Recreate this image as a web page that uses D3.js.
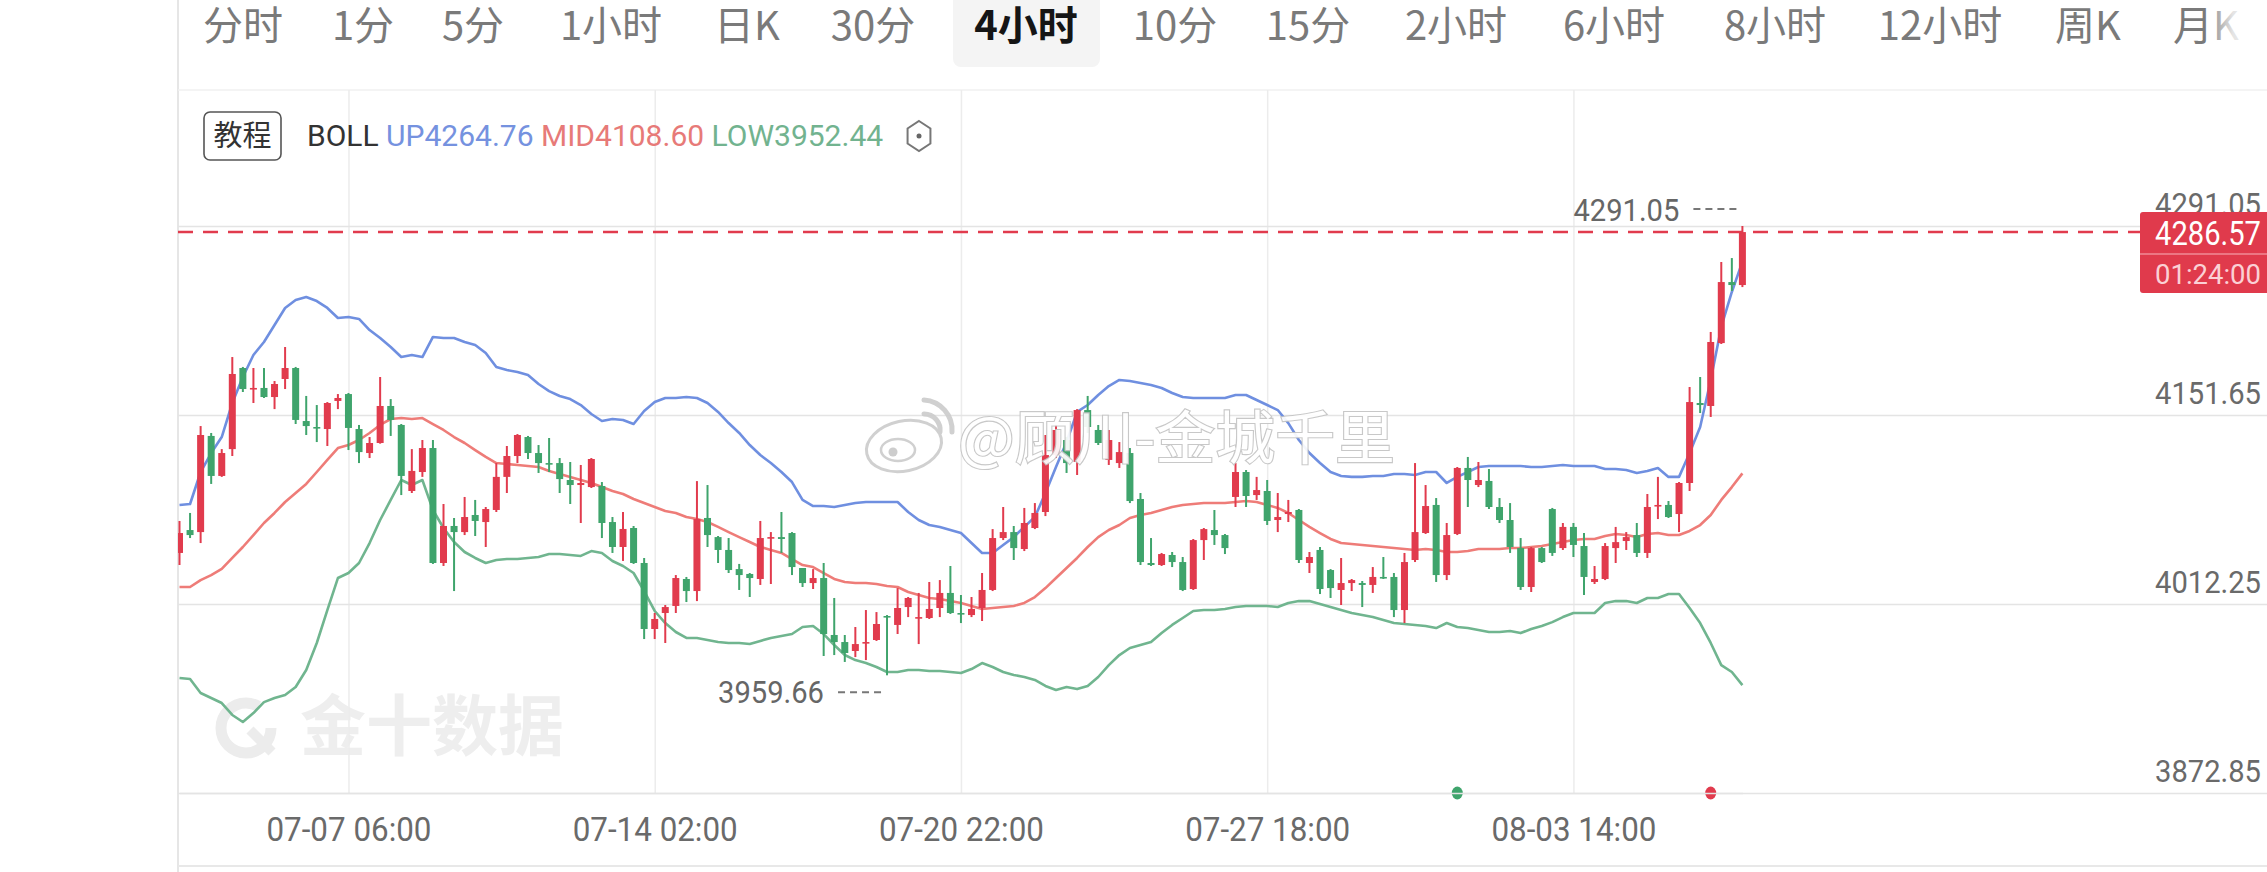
<!DOCTYPE html>
<html><head><meta charset="utf-8">
<script src="https://cdnjs.cloudflare.com/ajax/libs/d3/7.8.5/d3.min.js"></script>
<style>html,body{margin:0;padding:0;background:#fff;overflow:hidden}svg{display:block}</style>
</head><body><svg id="c" width="2267" height="872"></svg>
<script>
// ---------------- DATA ----------------
const tabs = ["分时","1分","5分","1小时","日K","30分","4小时","10分","15分","2小时","6小时","8小时","12小时","周K","月K"];
const activeTab = "4小时";

const open = [4049.9,4066.8,4065.3,4136.2,4106.7,4126.5,4186.3,4170.8,4171.6,4164.9,4178.2,4186.3,4147.2,4142.8,4141.3,4162.0,4167.1,4141.3,4123.6,4131.0,
4158.3,4144.3,4095.6,4109.6,4127.3,4042.5,4069.8,4065.3,4077.9,4072.7,4081.6,4106.0,4121.4,4135.4,4123.6,4116.2,4116.2,4103.7,4100.0,4098.5,
4099.3,4072.7,4054.3,4068.3,4042.5,3993.8,4005.6,4010.8,4030.7,4021.8,4075.7,4061.6,4052.1,4038.0,4034.4,4030.7,4060.9,4061.6,4064.6,4038.8,
4027.7,4031.4,3989.4,3984.2,3977.6,3983.5,3985.7,4003.4,3996.8,4010.0,4001.9,4001.9,4009.3,4020.4,4005.6,4004.1,4009.3,4022.6,4060.9,4065.3,
4052.8,4068.3,4080.1,4122.1,4133.2,4117.0,4155.3,4140.6,4118.5,4116.2,4123.6,4089.7,4042.5,4041.0,4048.4,4043.2,4023.3,4059.4,4066.8,4063.1,
4091.2,4109.6,4092.6,4095.6,4074.2,4078.6,4081.6,4042.5,4052.1,4037.3,4022.6,4027.7,4027.7,4026.3,4032.2,4032.2,4007.8,4044.7,4064.6,4085.3,
4033.6,4063.9,4112.6,4100.0,4103.0,4083.8,4074.2,4053.5,4024.8,4053.5,4082.3,4053.5,4069.1,4055.0,4028.5,4030.7,4053.5,4058.7,4063.1,4049.9,
4084.5,4085.3,4078.6,4101.5,4160.5,4158.3,4204.7,4249.7,4247.5];
const high = [4073.5,4079.4,4143.5,4138.4,4126.5,4194.4,4187.1,4186.3,4186.3,4176.7,4201.8,4187.1,4165.7,4159.0,4161.2,4167.1,4167.9,4144.3,4135.4,4179.7,
4163.4,4145.0,4126.5,4133.2,4133.2,4086.0,4075.7,4091.2,4089.0,4083.8,4116.2,4128.8,4137.6,4136.2,4129.5,4134.7,4119.9,4117.0,4114.8,4119.9,
4102.2,4076.4,4080.1,4069.8,4046.2,4005.6,4011.5,4033.6,4032.2,4102.9,4100.0,4062.4,4060.9,4041.8,4035.1,4073.5,4065.3,4080.1,4065.3,4038.8,
4038.0,4042.5,4016.7,3989.4,3995.3,4007.8,4006.3,4004.1,4024.0,4017.4,4020.4,4028.5,4029.9,4040.3,4018.9,4017.4,4035.1,4067.5,4083.8,4069.8,
4083.1,4086.7,4136.9,4144.3,4135.4,4156.0,4165.7,4144.3,4140.6,4131.7,4127.3,4094.1,4060.9,4049.9,4050.6,4046.9,4060.2,4068.3,4081.6,4063.9,
4116.2,4111.1,4106.0,4103.7,4094.1,4089.0,4082.3,4050.6,4054.3,4038.0,4046.2,4030.7,4029.2,4039.5,4046.9,4035.1,4049.9,4116.2,4100.0,4090.4,
4072.0,4113.3,4120.7,4117.0,4111.8,4090.4,4086.7,4060.9,4054.3,4054.3,4083.1,4072.0,4072.0,4064.6,4040.3,4057.2,4069.1,4065.3,4072.0,4093.4,
4106.0,4088.2,4102.2,4172.3,4179.7,4212.9,4264.5,4267.4,4291.05];
const low = [4041.0,4060.9,4057.2,4100.8,4106.0,4121.4,4168.6,4160.5,4164.2,4156.0,4170.8,4145.0,4136.9,4131.7,4128.8,4156.0,4125.8,4116.2,4119.9,4130.5,
4136.2,4092.6,4094.1,4106.0,4041.8,4040.3,4021.8,4063.1,4062.4,4054.3,4080.1,4094.1,4116.2,4119.2,4108.9,4109.6,4094.1,4086.0,4072.0,4097.8,
4060.9,4049.9,4044.0,4041.8,3986.4,3986.4,3983.5,4005.6,4013.7,4014.4,4054.3,4042.5,4035.1,4022.6,4017.4,4026.3,4027.0,4049.9,4033.6,4024.8,
4023.3,3973.9,3974.6,3969.5,3973.1,3970.9,3985.0,3959.66,3990.1,4002.6,3982.7,4001.2,4002.6,4004.9,3998.2,4002.6,3999.7,4021.8,4059.4,4044.7,
4051.3,4067.5,4077.1,4119.9,4108.9,4107.4,4138.4,4129.5,4114.8,4112.6,4086.7,4041.0,4040.3,4040.3,4039.5,4021.8,4022.6,4044.7,4055.8,4049.1,
4083.8,4083.8,4089.0,4070.5,4065.3,4072.7,4042.5,4035.1,4019.6,4016.7,4011.5,4021.8,4010.0,4020.4,4030.7,4002.6,3998.2,4043.2,4063.9,4028.5,
4029.9,4063.1,4083.8,4098.5,4082.3,4072.0,4049.9,4022.6,4021.1,4042.5,4047.7,4052.1,4046.9,4018.9,4027.0,4029.9,4042.5,4052.1,4046.9,4046.2,
4074.9,4075.7,4065.3,4095.6,4153.1,4150.2,4204.0,4243.1,4246.0];
const close = [4064.6,4063.1,4136.9,4106.7,4123.6,4181.9,4170.8,4171.6,4164.9,4174.5,4186.3,4148.0,4143.5,4142.1,4160.5,4164.2,4142.1,4124.3,4131.0,4158.3,
4148.0,4106.7,4110.4,4127.3,4042.5,4069.8,4065.3,4076.4,4073.5,4082.3,4106.0,4121.4,4136.9,4123.6,4116.2,4115.5,4104.4,4100.0,4101.5,4119.2,
4072.0,4054.3,4067.6,4042.5,3993.8,4001.2,4010.0,4031.4,4021.8,4074.9,4063.1,4052.1,4037.3,4033.6,4031.4,4060.9,4061.6,4060.2,4039.5,4027.7,
4031.4,3990.1,3984.2,3976.1,3982.7,3984.2,3997.5,4002.6,4009.3,4016.7,4002.6,4008.6,4020.4,4005.6,4004.9,4008.6,4022.6,4060.9,4065.3,4053.5,
4072.0,4079.4,4122.1,4140.6,4116.2,4155.3,4142.8,4131.0,4133.2,4124.3,4088.2,4043.2,4041.0,4049.1,4043.2,4022.6,4059.4,4067.5,4063.1,4053.5,
4109.6,4091.9,4096.3,4073.5,4076.4,4080.1,4044.7,4046.9,4023.3,4024.0,4027.7,4029.9,4026.3,4032.2,4031.4,4007.8,4043.2,4065.3,4084.5,4033.6,
4063.1,4112.6,4103.7,4103.7,4083.8,4074.2,4054.3,4024.8,4053.5,4043.2,4049.9,4069.1,4055.8,4032.2,4030.7,4055.0,4057.9,4061.6,4049.9,4083.8,
4085.3,4076.4,4101.5,4161.2,4159.0,4205.5,4249.7,4247.5,4286.57];

const bollUp = [4085.3,4086.0,4109.6,4123.6,4135.4,4160.5,4179.7,4195.9,4205.5,4218.0,4230.6,4236.5,4238.7,4235.7,4230.6,4223.2,4223.9,4222.5,4214.3,4208.4,
4201.8,4194.4,4195.9,4194.4,4209.2,4208.4,4208.4,4205.5,4203.3,4197.4,4187.1,4184.8,4183.4,4181.2,4174.5,4169.3,4165.7,4163.4,4159.0,4152.4,
4147.2,4148.7,4148.0,4145.0,4154.6,4161.2,4164.2,4164.2,4164.9,4164.2,4160.5,4153.9,4145.7,4138.4,4129.5,4122.1,4116.2,4109.6,4102.2,4089.0,
4084.5,4084.5,4083.8,4085.3,4086.7,4087.5,4087.5,4087.5,4087.5,4080.1,4074.2,4070.5,4069.1,4066.8,4064.6,4057.2,4049.9,4049.9,4055.8,4061.6,
4069.1,4076.4,4094.1,4113.3,4131.7,4153.9,4159.0,4166.4,4173.0,4177.5,4176.7,4175.3,4173.8,4171.6,4167.9,4164.9,4164.2,4164.2,4164.2,4164.2,
4166.4,4166.4,4162.7,4159.0,4155.3,4145.7,4133.2,4123.6,4116.2,4109.6,4106.7,4106.0,4106.0,4106.7,4106.7,4108.1,4108.1,4107.4,4109.6,4109.6,
4101.5,4106.0,4109.6,4113.3,4114.0,4114.0,4114.0,4114.0,4113.3,4113.3,4114.0,4114.8,4114.0,4114.0,4114.0,4111.8,4111.8,4111.1,4108.9,4110.3,
4112.6,4106.0,4106.0,4123.6,4142.8,4177.5,4216.6,4242.4,4264.76];
const bollMid = [4024.8,4024.8,4029.9,4033.6,4038.1,4046.2,4054.3,4063.1,4072.0,4079.4,4087.5,4094.1,4100.8,4109.6,4118.5,4127.3,4129.5,4133.2,4138.4,4144.3,
4148.7,4149.4,4148.7,4149.4,4145.0,4140.6,4135.4,4131.0,4125.8,4120.7,4116.2,4115.5,4114.8,4114.0,4113.3,4110.3,4108.1,4106.0,4103.7,4101.5,
4098.5,4095.6,4093.4,4089.7,4086.7,4083.8,4080.8,4079.4,4076.4,4074.9,4072.7,4069.1,4065.3,4061.6,4058.0,4054.3,4052.1,4049.9,4045.4,4041.0,
4039.5,4035.1,4030.7,4028.5,4027.7,4027.7,4027.0,4025.5,4024.8,4021.1,4018.9,4016.7,4015.9,4014.5,4013.0,4010.8,4008.6,4009.3,4010.0,4010.8,
4013.0,4017.4,4024.0,4031.4,4038.8,4046.2,4054.3,4061.6,4066.8,4070.5,4075.7,4077.9,4079.4,4081.6,4083.8,4085.3,4086.0,4086.7,4086.7,4086.7,
4087.5,4088.2,4087.5,4085.3,4083.1,4079.4,4074.2,4069.1,4064.6,4060.2,4057.2,4056.5,4055.8,4055.0,4054.3,4053.5,4052.8,4052.1,4052.8,4052.1,
4050.6,4050.6,4051.3,4052.8,4052.8,4052.8,4053.5,4053.5,4054.3,4055.0,4056.5,4058.0,4059.4,4060.2,4060.2,4062.4,4063.9,4063.1,4061.6,4063.9,
4064.6,4063.1,4063.1,4066.1,4070.5,4077.9,4089.0,4098.5,4108.60];
const bollLow = [3957.7,3956.9,3946.6,3942.9,3939.2,3930.4,3925.2,3931.8,3939.9,3942.9,3945.1,3951.0,3963.6,3983.5,4007.8,4031.4,4035.1,4042.5,4057.2,4074.2,
4089.0,4103.7,4100.0,4103.7,4081.6,4068.3,4058.0,4050.6,4046.2,4042.5,4044.7,4045.4,4045.4,4046.2,4046.9,4049.1,4049.1,4048.4,4047.7,4051.3,
4049.9,4044.0,4040.3,4035.1,4021.8,4007.1,3998.2,3991.6,3987.2,3987.2,3985.7,3984.2,3983.5,3983.5,3982.7,3985.0,3987.2,3988.6,3990.1,3995.3,
3996.0,3990.1,3982.0,3974.6,3970.9,3968.7,3965.8,3962.1,3962.1,3963.6,3963.6,3962.8,3962.8,3962.1,3961.4,3964.3,3968.7,3965.8,3962.1,3959.9,
3958.4,3956.2,3951.8,3948.8,3951.0,3949.5,3951.8,3958.4,3967.2,3974.6,3979.8,3982.0,3984.2,3990.8,3996.8,4001.9,4007.1,4007.8,4007.8,4008.6,
4010.0,4010.8,4010.8,4010.8,4010.0,4013.0,4014.4,4014.4,4012.2,4010.0,4007.8,4005.6,4004.1,4002.6,4000.4,3998.2,3997.5,3996.8,3996.0,3994.5,
3998.2,3995.3,3994.5,3993.1,3991.6,3991.6,3992.3,3990.8,3993.8,3996.0,3998.9,4002.6,4005.6,4005.6,4005.6,4013.0,4014.4,4014.4,4013.0,4016.7,
4016.7,4019.6,4019.6,4009.3,3998.2,3983.5,3967.2,3962.1,3952.44];

const yTicks = [3872.85, 4012.25, 4151.65, 4291.05];
const xTickIdx = [16, 45, 74, 103, 132];
const xTickLabels = ["07-07 06:00","07-14 02:00","07-20 22:00","07-27 18:00","08-03 14:00"];
const markIdx = [121, 145];
const markUp = [false, true];
const countdown = "01:24:00";
const legendParts = [["BOLL","#333333"],["UP4264.76","#7592df"],["MID4108.60","#e77a78"],["LOW3952.44","#72b38f"]];

// ---------------- LAYOUT ----------------
const W = 2267, H = 872;
const plotL = 178, plotTop = 90, axisY = 793, plotBottom = 866;
const tabCenters = [243,363,473,611,747,873,1026,1175,1308,1456,1614,1775,1940,2088,2206];
const RED = "#e13b4d", GREEN = "#3fa46c";
const C_UP = "#6f8fe0", C_MID = "#ee7c78", C_LOW = "#70b58f";
const numFont = "Roboto, 'Liberation Sans', sans-serif";
const cjkFont = "'Noto Sans CJK SC', 'Noto Sans', sans-serif";

const svg = d3.select("#c");
svg.append("rect").attr("width", W).attr("height", H).attr("fill", "#fff");

const N = close.length;
const x = d3.scaleLinear().domain([0, N - 1]).range([179.5, 1742.4]);
const y = d3.scaleLinear().domain([yTicks[0], yTicks[yTicks.length - 1]]).range([axisY, 226]);

// ---------- tab bar ----------
const activeI = tabs.indexOf(activeTab);
svg.append("rect").attr("x", 953).attr("y", -10).attr("width", 147).attr("height", 77)
  .attr("rx", 8).attr("fill", "#f4f4f4");
svg.append("g").selectAll("text").data(tabs).join("text")
  .attr("x", (d, i) => tabCenters[i]).attr("y", 40)
  .attr("text-anchor", "middle")
  .attr("font-family", cjkFont).attr("font-size", 40)
  .attr("font-weight", (d, i) => i === activeI ? 700 : 400)
  .attr("fill", (d, i) => i === activeI ? "#151515" : "#7a7a7a")
  .text(d => d);
const defs = svg.append("defs");
const fg = defs.append("linearGradient").attr("id", "fade").attr("x1", "0").attr("x2", "1");
fg.append("stop").attr("offset", "0").attr("stop-color", "#fff").attr("stop-opacity", 0);
fg.append("stop").attr("offset", "0.45").attr("stop-color", "#fff").attr("stop-opacity", 0.8);
fg.append("stop").attr("offset", "1").attr("stop-color", "#fff").attr("stop-opacity", 0.95);
svg.append("rect").attr("x", 2205).attr("y", 0).attr("width", 62).attr("height", 60).attr("fill", "url(#fade)");

// ---------- frame ----------
svg.append("line").attr("x1", plotL).attr("x2", plotL).attr("y1", 0).attr("y2", H)
  .attr("stroke", "#e6e6e6").attr("stroke-width", 2);
svg.append("line").attr("x1", plotL).attr("x2", W).attr("y1", plotTop).attr("y2", plotTop)
  .attr("stroke", "#f0f0f0").attr("stroke-width", 1.5);
svg.append("line").attr("x1", plotL).attr("x2", W).attr("y1", plotBottom).attr("y2", plotBottom)
  .attr("stroke", "#e8e8e8").attr("stroke-width", 2);

// ---------- watermark 金十数据 ----------
const wm = svg.append("g").attr("fill", "#eeeeee");
wm.append("circle").attr("cx", 246).attr("cy", 728).attr("r", 25).attr("fill", "none")
  .attr("stroke", "#ececec").attr("stroke-width", 11).attr("stroke-dasharray", "130 30");
wm.append("path").attr("d", "M 250 730 L 272 752").attr("stroke", "#ececec").attr("stroke-width", 10);
wm.append("text").attr("x", 300).attr("y", 750).attr("font-family", cjkFont).attr("font-weight", 700)
  .attr("font-size", 66).attr("textLength", 264).attr("lengthAdjust", "spacingAndGlyphs").text("金十数据");

// ---------- grid ----------
svg.append("g").attr("transform", `translate(0,${axisY})`)
  .call(d3.axisBottom(x).tickValues(xTickIdx).tickSize(-(axisY - plotTop)).tickFormat(""))
  .call(g => g.select(".domain").remove())
  .call(g => g.selectAll("line").attr("stroke", "#ececec").attr("stroke-width", 1.5));
svg.append("g").attr("transform", `translate(${plotL},0)`)
  .call(d3.axisLeft(y).tickValues(yTicks).tickSize(-(W - plotL)).tickFormat(""))
  .call(g => g.select(".domain").remove())
  .call(g => g.selectAll("line").attr("stroke", "#e4e4e4").attr("stroke-width", 1.5));

// ---------- plot ----------
defs.append("clipPath").attr("id", "clip").append("rect")
  .attr("x", plotL).attr("y", plotTop).attr("width", W - plotL).attr("height", axisY - plotTop);
const plot = svg.append("g").attr("clip-path", "url(#clip)");

const line = d3.line().x((d, i) => x(i)).y(d => y(d));
[[bollUp, C_UP], [bollMid, C_MID], [bollLow, C_LOW]].forEach(([arr, col]) => {
  plot.append("path").datum(arr).attr("d", line).attr("fill", "none")
    .attr("stroke", col).attr("stroke-width", 2.6).attr("stroke-linejoin", "round");
});

const idx = d3.range(N);
const col = i => close[i] >= open[i] ? RED : GREEN;
plot.append("g").selectAll("line").data(idx).join("line")
  .attr("x1", i => x(i)).attr("x2", i => x(i))
  .attr("y1", i => y(high[i])).attr("y2", i => y(low[i]))
  .attr("stroke", col).attr("stroke-width", 2);
plot.append("g").selectAll("rect").data(idx).join("rect")
  .attr("x", i => x(i) - 3.5).attr("width", 7)
  .attr("y", i => y(Math.max(open[i], close[i])))
  .attr("height", i => Math.max(1.6, Math.abs(y(open[i]) - y(close[i]))))
  .attr("fill", col);

// ---------- weibo watermark ----------
const wb = svg.append("g").attr("opacity", 0.92);
wb.append("ellipse").attr("cx", 904).attr("cy", 446).attr("rx", 38).attr("ry", 25)
  .attr("transform", "rotate(-12 904 446)").attr("fill", "#fff").attr("stroke", "#cdcdcd").attr("stroke-width", 3);
wb.append("ellipse").attr("cx", 898).attr("cy", 450).attr("rx", 17).attr("ry", 11)
  .attr("fill", "#fff").attr("stroke", "#cdcdcd").attr("stroke-width", 2.5);
wb.append("circle").attr("cx", 893).attr("cy", 452).attr("r", 4.5).attr("fill", "#c9c9c9");
wb.append("path").attr("d", "M 924 414 A 16 16 0 0 1 940 432").attr("fill", "none").attr("stroke", "#cdcdcd").attr("stroke-width", 5).attr("stroke-linecap", "round");
wb.append("path").attr("d", "M 924 400 A 30 30 0 0 1 952 432").attr("fill", "none").attr("stroke", "#cdcdcd").attr("stroke-width", 5).attr("stroke-linecap", "round");
wb.append("text").attr("x", 958).attr("y", 459).attr("font-family", cjkFont).attr("font-size", 58)
  .attr("textLength", 437).attr("lengthAdjust", "spacingAndGlyphs")
  .attr("fill", "#ffffff").attr("stroke", "#c4c4c4").attr("stroke-width", 2.2).attr("paint-order", "stroke")
  .text("@顾川-金城千里");

// ---------- last price line ----------
const last = close[N - 1];
svg.append("line").attr("x1", plotL).attr("x2", 2140).attr("y1", y(last)).attr("y2", y(last))
  .attr("stroke", RED).attr("stroke-width", 2.5).attr("stroke-dasharray", "15 10");

// ---------- high / low annotations ----------
const hiI = d3.maxIndex(high), loI = d3.minIndex(low);
const annot = (i, v, dyText, dyDash) => {
  svg.append("text").attr("x", x(i) - 63).attr("y", y(v) + dyText).attr("text-anchor", "end")
    .attr("font-family", numFont).attr("font-size", 31).attr("fill", "#666")
    .attr("textLength", 106).attr("lengthAdjust", "spacingAndGlyphs").text(v.toFixed(2));
  svg.append("line").attr("x1", x(i) - 49).attr("x2", x(i) - 6).attr("y1", y(v) + dyDash).attr("y2", y(v) + dyDash)
    .attr("stroke", "#777").attr("stroke-width", 2).attr("stroke-dasharray", "7 5");
};
annot(hiI, high[hiI], -5, -17);
annot(loI, low[loI], 28, 17);

// ---------- event marks ----------
svg.append("g").selectAll("ellipse").data(markIdx).join("ellipse")
  .attr("cx", d => x(d)).attr("cy", axisY).attr("rx", 5.5).attr("ry", 6.5)
  .attr("fill", (d, k) => markUp[k] ? RED : GREEN);

// ---------- axes labels ----------
svg.append("g").attr("transform", `translate(0,${axisY})`)
  .call(d3.axisBottom(x).tickValues(xTickIdx).tickSize(0).tickFormat((d, k) => xTickLabels[k]))
  .call(g => g.select(".domain").attr("stroke", "#e4e4e4").attr("stroke-width", 1.5))
  .call(g => g.selectAll("text").attr("y", 48).attr("dy", null)
    .attr("font-family", numFont).attr("font-size", 33).attr("fill", "#6a6a6a")
    .attr("textLength", 165).attr("lengthAdjust", "spacingAndGlyphs"));

svg.append("g").attr("transform", `translate(2261,0)`)
  .call(d3.axisLeft(y).tickValues(yTicks).tickSize(0).tickPadding(0).tickFormat(d3.format(".2f")))
  .call(g => g.select(".domain").remove())
  .call(g => g.selectAll("text").attr("y", -12).attr("dy", null)
    .attr("font-family", numFont).attr("font-size", 32).attr("fill", "#6a6a6a")
    .attr("textLength", 106).attr("lengthAdjust", "spacingAndGlyphs"));

// ---------- current price tag ----------
const tag = svg.append("g");
tag.append("rect").attr("x", 2140).attr("y", 212).attr("width", 140).attr("height", 81).attr("rx", 3).attr("fill", "#e03a4c");
tag.append("line").attr("x1", 2140).attr("x2", W).attr("y1", 254).attr("y2", 254).attr("stroke", "#f08b96").attr("stroke-width", 1.5);
tag.append("text").attr("x", 2261).attr("y", 245).attr("text-anchor", "end")
  .attr("font-family", numFont).attr("font-size", 34).attr("fill", "#fff")
  .attr("textLength", 106).attr("lengthAdjust", "spacingAndGlyphs").text(last.toFixed(2));
tag.append("text").attr("x", 2261).attr("y", 284).attr("text-anchor", "end")
  .attr("font-family", numFont).attr("font-size", 28).attr("fill", "#fbd0d5")
  .attr("textLength", 106).attr("lengthAdjust", "spacingAndGlyphs").text(countdown);

// ---------- BOLL legend ----------
svg.append("rect").attr("x", 204).attr("y", 112).attr("width", 77).attr("height", 48).attr("rx", 6)
  .attr("fill", "#fff").attr("stroke", "#555").attr("stroke-width", 1.6);
svg.append("text").attr("x", 242.5).attr("y", 146).attr("text-anchor", "middle")
  .attr("font-family", cjkFont).attr("font-size", 29).attr("fill", "#333").text("教程");
const lg = svg.append("text").attr("x", 307).attr("y", 146).attr("font-family", numFont).attr("font-size", 30);
legendParts.forEach(([t, c], k) => {
  lg.append("tspan").attr("fill", c).text((k ? " " : "") + t);
});
// settings hexagon icon
const hx = 919, hy = 136, hr = 15;
const hexPts = d3.range(6).map(k => {
  const a = Math.PI / 3 * k - Math.PI / 2;
  return [hx + hr * Math.cos(a) * 0.88, hy + hr * Math.sin(a)];
});
svg.append("path").attr("d", d3.line()(hexPts) + "Z").attr("fill", "none").attr("stroke", "#777").attr("stroke-width", 2);
svg.append("circle").attr("cx", hx).attr("cy", hy).attr("r", 2.5).attr("fill", "#666");
</script></body></html>
